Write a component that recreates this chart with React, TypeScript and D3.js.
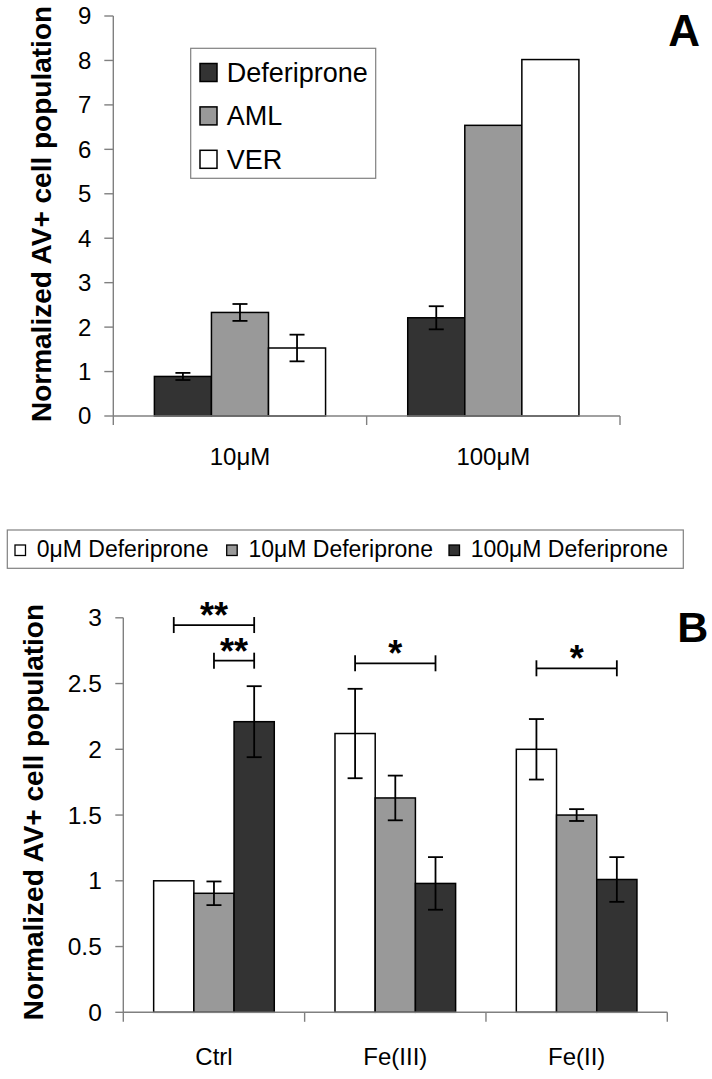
import React from "react";
import * as d3 from "d3";

// ---------- Panel A data ----------
const groupsA = ["10μM", "100μM"];
const seriesA = ["Deferiprone", "AML", "VER"];
const deferiproneA = [0.89, 2.21];
const deferiproneErrA = [0.08, 0.26];
const amlA = [2.33, 6.54];
const amlErrA = [0.19, 0];
const verA = [1.53, 8.02];
const verErrA = [0.3, 0];
const ticksA = [0, 1, 2, 3, 4, 5, 6, 7, 8, 9];

// ---------- Panel B data ----------
const groupsB = ["Ctrl", "Fe(III)", "Fe(II)"];
const seriesB = ["0μM Deferiprone", "10μM Deferiprone", "100μM Deferiprone"];
const dose0B = [1.0, 2.12, 2.0];
const dose0ErrB = [0, 0.34, 0.23];
const dose10B = [0.905, 1.63, 1.5];
const dose10ErrB = [0.09, 0.17, 0.045];
const dose100B = [2.21, 0.98, 1.01];
const dose100ErrB = [0.27, 0.2, 0.17];
const ticksB = [0, 0.5, 1, 1.5, 2, 2.5, 3];
const sigGroups = ["Ctrl", "Ctrl", "Fe(III)", "Fe(II)"];
const sigFrom = [0, 1, 0, 0];
const sigTo = [2, 2, 2, 2];
const sigLevel = [2.945, 2.674, 2.654, 2.616];
const sigLabel = ["**", "**", "*", "*"];

const FONT = "'Liberation Sans', Arial, sans-serif";
const AXIS = "#808080";
const DARK = "#333333";
const GRAY = "#999999";
const WHITE = "#ffffff";

export default function App() {
  // ----- Panel A scales -----
  const xA = d3.scaleBand<string>().domain(groupsA).range([113.3, 620]).paddingInner(0).paddingOuter(0);
  const x1A = d3.scaleBand<string>().domain(seriesA).range([0, xA.bandwidth()]).paddingInner(0).paddingOuter(0.72);
  const yA = d3.scaleLinear().domain([0, 9]).range([416, 16]);
  const valsA = [deferiproneA, amlA, verA];
  const errsA = [deferiproneErrA, amlErrA, verErrA];
  const fillsA = [DARK, GRAY, WHITE];

  // ----- Panel B scales -----
  const xB = d3.scaleBand<string>().domain(groupsB).range([123.3, 667.3]).paddingInner(0).paddingOuter(0);
  const x1B = d3.scaleBand<string>().domain(seriesB).range([0, xB.bandwidth()]).paddingInner(0).paddingOuter(0.755);
  const yB = d3.scaleLinear().domain([0, 3]).range([1012.3, 617.8]);
  const valsB = [dose0B, dose10B, dose100B];
  const errsB = [dose0ErrB, dose10ErrB, dose100ErrB];
  const fillsB = [WHITE, GRAY, DARK];

  const errBar = (cx: number, y: (v: number) => number, v: number, e: number, key: string) =>
    e > 0 ? (
      <g key={key} stroke="#000" strokeWidth={1.8}>
        <line x1={cx} x2={cx} y1={y(v + e)} y2={y(v - e)} />
        <line x1={cx - 7.5} x2={cx + 7.5} y1={y(v + e)} y2={y(v + e)} />
        <line x1={cx - 7.5} x2={cx + 7.5} y1={y(v - e)} y2={y(v - e)} />
      </g>
    ) : null;

  const xA0 = xA.range()[0];
  const xA1 = xA.range()[1];
  const xB0 = xB.range()[0];
  const xB1 = xB.range()[1];

  return (
    <svg
      width={712}
      height={1079}
      style={{ position: "absolute", left: 0, top: 0, background: "#fff" }}
      fontFamily={FONT}
    >
      <rect x={0} y={0} width={712} height={1079} fill="#fff" />

      {/* ================= Panel A ================= */}
      {/* bars */}
      {groupsA.map((g, gi) =>
        seriesA.map((s, si) => {
          const x = (xA(g) as number) + (x1A(s) as number);
          const v = valsA[si][gi];
          return (
            <rect
              key={`a-${g}-${s}`}
              x={x}
              y={yA(v)}
              width={x1A.bandwidth()}
              height={yA(0) - yA(v)}
              fill={fillsA[si]}
              stroke="#000"
              strokeWidth={1.5}
            />
          );
        })
      )}
      {groupsA.map((g, gi) =>
        seriesA.map((s, si) => {
          const cx = (xA(g) as number) + (x1A(s) as number) + x1A.bandwidth() / 2;
          return errBar(cx, yA, valsA[si][gi], errsA[si][gi], `ae-${g}-${s}`);
        })
      )}
      {/* axes */}
      <g stroke={AXIS} strokeWidth={1.4}>
        <line x1={xA0} x2={xA0} y1={yA(9)} y2={yA(0) + 9} />
        <line x1={xA0} x2={xA1} y1={yA(0)} y2={yA(0)} />
        {groupsA.map((g) => {
          const xe = (xA(g) as number) + xA.bandwidth();
          return <line key={`atk-${g}`} x1={xe} x2={xe} y1={yA(0)} y2={yA(0) + 9} />;
        })}
        {ticksA.map((t) => (
          <line key={`ayt-${t}`} x1={xA0 - 9} x2={xA0} y1={yA(t)} y2={yA(t)} />
        ))}
      </g>
      {ticksA.map((t) => (
        <text key={`ayl-${t}`} x={xA0 - 22} y={yA(t)} dy="0.35em" textAnchor="end" fontSize={24} fill="#000">
          {t}
        </text>
      ))}
      {groupsA.map((g) => (
        <text
          key={`axl-${g}`}
          x={(xA(g) as number) + xA.bandwidth() / 2}
          y={465}
          textAnchor="middle"
          fontSize={24}
          fill="#000"
        >
          {g}
        </text>
      ))}
      <text
        transform={`translate(51, ${(yA(0) + yA(9)) / 2 - 2}) rotate(-90)`}
        textAnchor="middle"
        fontSize={28}
        fontWeight="bold"
        fill="#000"
      >
        Normalized AV+ cell population
      </text>
      {/* legend A */}
      <rect x={190.7} y={48.3} width={185} height={130} fill="#fff" stroke={AXIS} strokeWidth={1.2} />
      {seriesA.map((s, si) => {
        const cy = 72.5 + si * 43.4;
        return (
          <g key={`alg-${s}`}>
            <rect x={200} y={cy - 9} width={17} height={18} fill={fillsA[si]} stroke="#000" strokeWidth={1.5} />
            <text x={226.7} y={cy + 9.5} fontSize={27} fill="#000">
              {s}
            </text>
          </g>
        );
      })}
      <text x={668.3} y={46} fontSize={44} fontWeight="bold" fill="#000">
        A
      </text>

      {/* ================= Legend B ================= */}
      <rect x={7.3} y={530} width={676} height={38.3} fill="#fff" stroke={AXIS} strokeWidth={1.2} />
      {seriesB.map((s, si) => {
        const sx = [15, 226.7, 449][si];
        return (
          <g key={`blg-${s}`}>
            <rect x={sx} y={545} width={10.5} height={10.5} fill={fillsB[si]} stroke="#000" strokeWidth={1.3} />
            <text x={sx + 21.7} y={557.3} fontSize={23} fill="#000">
              {s}
            </text>
          </g>
        );
      })}

      {/* ================= Panel B ================= */}
      {groupsB.map((g, gi) =>
        seriesB.map((s, si) => {
          const x = (xB(g) as number) + (x1B(s) as number);
          const v = valsB[si][gi];
          return (
            <rect
              key={`b-${g}-${s}`}
              x={x}
              y={yB(v)}
              width={x1B.bandwidth()}
              height={yB(0) - yB(v)}
              fill={fillsB[si]}
              stroke="#000"
              strokeWidth={1.5}
            />
          );
        })
      )}
      {groupsB.map((g, gi) =>
        seriesB.map((s, si) => {
          const cx = (xB(g) as number) + (x1B(s) as number) + x1B.bandwidth() / 2;
          return errBar(cx, yB, valsB[si][gi], errsB[si][gi], `be-${g}-${s}`);
        })
      )}
      {/* significance brackets */}
      {sigGroups.map((g, i) => {
        const base = xB(g) as number;
        const xa = base + (x1B(seriesB[sigFrom[i]]) as number) + x1B.bandwidth() / 2;
        const xb = base + (x1B(seriesB[sigTo[i]]) as number) + x1B.bandwidth() / 2;
        const yy = yB(sigLevel[i]);
        return (
          <g key={`sig-${i}`}>
            <g stroke="#000" strokeWidth={1.8}>
              <line x1={xa} x2={xb} y1={yy} y2={yy} />
              <line x1={xa} x2={xa} y1={yy - 8} y2={yy + 8} />
              <line x1={xb} x2={xb} y1={yy - 8} y2={yy + 8} />
            </g>
            <text x={(xa + xb) / 2} y={yy + 3} textAnchor="middle" fontSize={36} fontWeight="bold" fill="#000">
              {sigLabel[i]}
            </text>
          </g>
        );
      })}
      {/* axes */}
      <g stroke={AXIS} strokeWidth={1.4}>
        <line x1={xB0} x2={xB0} y1={yB(3)} y2={yB(0) + 9.5} />
        <line x1={xB0} x2={xB1} y1={yB(0)} y2={yB(0)} />
        {groupsB.map((g) => {
          const xe = (xB(g) as number) + xB.bandwidth();
          return <line key={`btk-${g}`} x1={xe} x2={xe} y1={yB(0)} y2={yB(0) + 9.5} />;
        })}
        {ticksB.map((t) => (
          <line key={`byt-${t}`} x1={xB0 - 8} x2={xB0} y1={yB(t)} y2={yB(t)} />
        ))}
      </g>
      {ticksB.map((t) => (
        <text key={`byl-${t}`} x={xB0 - 21.5} y={yB(t)} dy="0.35em" textAnchor="end" fontSize={24.5} fill="#000">
          {t}
        </text>
      ))}
      {groupsB.map((g) => (
        <text
          key={`bxl-${g}`}
          x={(xB(g) as number) + xB.bandwidth() / 2}
          y={1065}
          textAnchor="middle"
          fontSize={24}
          fill="#000"
        >
          {g}
        </text>
      ))}
      <text
        transform={`translate(43, ${(yB(0) + yB(3)) / 2 - 3}) rotate(-90)`}
        textAnchor="middle"
        fontSize={28}
        fontWeight="bold"
        fill="#000"
      >
        Normalized AV+ cell population
      </text>
      <text x={677.3} y={641.7} fontSize={43} fontWeight="bold" fill="#000">
        B
      </text>
    </svg>
  );
}
